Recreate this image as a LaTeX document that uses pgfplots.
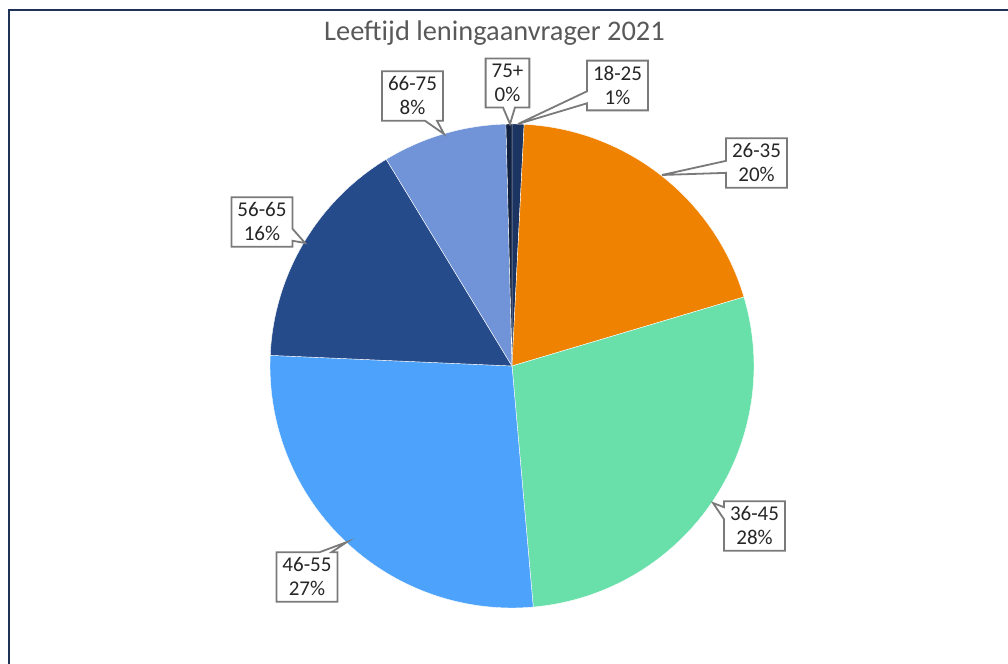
\documentclass[border=0pt]{standalone}
\usepackage{pgfplots}
\pgfplotsset{compat=1.18}
\usepackage{pgfplotstable}
\usepackage{fontspec}
\setmainfont{Carlito}
\usetikzlibrary{shapes.callouts}

\definecolor{slice0}{HTML}{1C3461}
\definecolor{slice1}{HTML}{EF8200}
\definecolor{slice2}{HTML}{69DFAA}
\definecolor{slice3}{HTML}{4DA3FC}
\definecolor{slice4}{HTML}{264B8B}
\definecolor{slice5}{HTML}{7094D7}
\definecolor{slice6}{HTML}{0F2040}
\definecolor{framecol}{HTML}{1F3358}
\definecolor{titlecol}{HTML}{595959}
\definecolor{labcol}{HTML}{262626}
\definecolor{boxcol}{HTML}{7A7A7A}

% share in %, callout box centre (bx,by) and pointer tip (tx,ty) in px
\pgfplotstableread{
label share bx by tx ty
18-25 0.8 617.5 578.5 518 540
26-35 19.6 756.5 501 662 489
36-45 28.2 754.5 138 713 161
46-55 27.1 307 87 347 122
56-65 15.6 262 442 305 421
66-75 8.3 412.5 568 444 530
75+ 0.4 507.5 581 510 540
}\piedata

\tikzset{labelbox/.style={rectangle callout, draw=boxcol, fill=white,
  line width=0.9pt, text=labcol, align=center, inner xsep=3pt,
  inner ysep=2.8pt, font=\fontsize{10.5}{12}\selectfont,
  callout pointer width=6pt}}

\begin{document}
\begin{tikzpicture}
\begin{axis}[
  x=0.5pt, y=0.5pt,
  xmin=0, xmax=1008, ymin=0, ymax=664,
  hide axis, clip=false,
]
% slices, clockwise from 12 o'clock
\def\startang{90}
\pgfplotsforeachungrouped \i in {0,...,6}{%
  \pgfplotstablegetelem{\i}{share}\of\piedata
  \pgfmathsetmacro\endang{\startang-3.6*\pgfplotsretval}%
  \edef\temp{\noexpand\filldraw[fill=slice\i, draw=white, line width=0.2pt]
    (axis cs:512,298) -- ++(\startang:121pt)
    arc[start angle=\startang, end angle=\endang, radius=121pt] -- cycle;}%
  \temp
  \let\startang\endang
}
% callouts
\pgfplotsforeachungrouped \i in {0,...,6}{%
  \pgfplotstablegetelem{\i}{label}\of\piedata \let\lab\pgfplotsretval
  \pgfplotstablegetelem{\i}{share}\of\piedata
  \pgfmathtruncatemacro\pct{round(\pgfplotsretval)}%
  \pgfplotstablegetelem{\i}{bx}\of\piedata \let\bx\pgfplotsretval
  \pgfplotstablegetelem{\i}{by}\of\piedata \let\by\pgfplotsretval
  \pgfplotstablegetelem{\i}{tx}\of\piedata \let\tx\pgfplotsretval
  \pgfplotstablegetelem{\i}{ty}\of\piedata \let\ty\pgfplotsretval
  \edef\temp{\noexpand\node[labelbox,
      callout absolute pointer={(axis cs:\tx,\ty)}]
    at (axis cs:\bx,\by) {\lab\noexpand\\\pct\noexpand\%};}%
  \temp
}
% title
\node[text=titlecol, font=\fontsize{14.2}{16}\selectfont]
  at (axis cs:494.5,631) {Leeftijd leningaanvrager 2021};
% frame (top and left edges visible)
\draw[framecol, line width=1pt] (axis cs:9,0) -- (axis cs:9,654) -- (axis cs:1008,654);
\end{axis}
\pgfresetboundingbox
\path (current axis.south west) rectangle (current axis.north east);
\end{tikzpicture}
\end{document}
